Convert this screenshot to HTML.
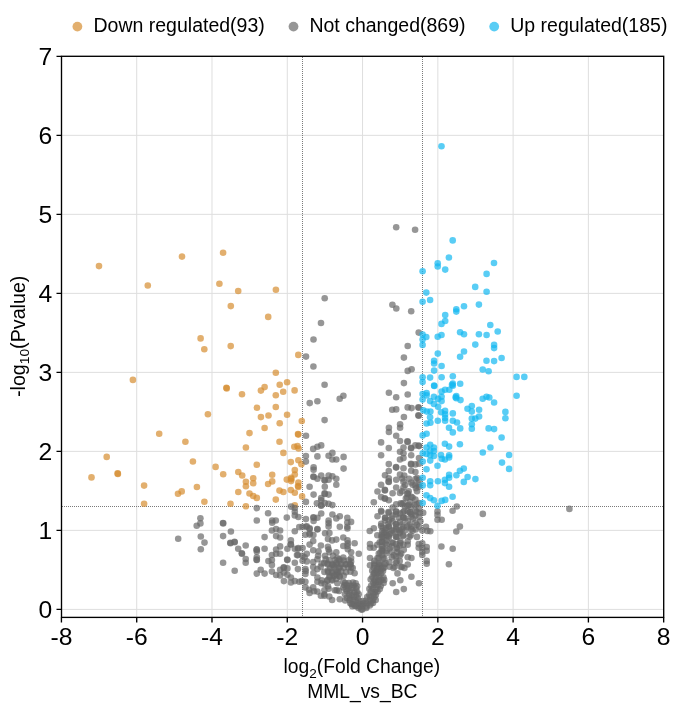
<!DOCTYPE html><html><head><meta charset="utf-8"><style>html,body{margin:0;padding:0;background:#fff;}body{width:685px;height:712px;overflow:hidden;font-family:"Liberation Sans",sans-serif;}svg{display:block;will-change:transform;}</style></head><body><svg width="685" height="712" viewBox="0 0 685 712"><rect width="685" height="712" fill="#fff"/><path d="M136.71 56.30V617.40M211.99 56.30V617.40M287.27 56.30V617.40M362.55 56.30V617.40M437.83 56.30V617.40M513.11 56.30V617.40M588.39 56.30V617.40M61.50 609.40H663.70M61.50 530.39H663.70M61.50 451.38H663.70M61.50 372.37H663.70M61.50 293.36H663.70M61.50 214.35H663.70M61.50 135.34H663.70" stroke="#dedede" stroke-width="1" fill="none"/><path d="M302.50 57V617M422.50 57V617M62 506.50H663" stroke="#7a7a7a" stroke-width="1" stroke-dasharray="1 1" fill="none"/><g fill="#D68D30" fill-opacity="0.7"><circle cx="99.0" cy="266.1" r="3.3"/><circle cx="147.8" cy="285.5" r="3.3"/><circle cx="182.0" cy="256.6" r="3.3"/><circle cx="223.1" cy="252.7" r="3.3"/><circle cx="219.4" cy="283.8" r="3.3"/><circle cx="238.2" cy="291.0" r="3.3"/><circle cx="275.9" cy="289.7" r="3.3"/><circle cx="230.8" cy="306.1" r="3.3"/><circle cx="268.2" cy="316.9" r="3.3"/><circle cx="200.6" cy="338.4" r="3.3"/><circle cx="204.3" cy="349.2" r="3.3"/><circle cx="132.9" cy="379.9" r="3.3"/><circle cx="207.9" cy="414.3" r="3.3"/><circle cx="159.2" cy="433.7" r="3.3"/><circle cx="230.7" cy="346.1" r="3.3"/><circle cx="298.3" cy="354.9" r="3.3"/><circle cx="275.8" cy="372.8" r="3.3"/><circle cx="287.1" cy="382.3" r="3.3"/><circle cx="279.7" cy="384.7" r="3.3"/><circle cx="264.6" cy="387.1" r="3.3"/><circle cx="260.9" cy="390.6" r="3.3"/><circle cx="226.7" cy="388.4" r="3.3"/><circle cx="226.4" cy="387.8" r="3.3"/><circle cx="242.0" cy="394.3" r="3.3"/><circle cx="275.8" cy="395.2" r="3.3"/><circle cx="283.2" cy="391.7" r="3.3"/><circle cx="294.6" cy="390.4" r="3.3"/><circle cx="256.9" cy="407.7" r="3.3"/><circle cx="275.8" cy="407.0" r="3.3"/><circle cx="260.9" cy="417.1" r="3.3"/><circle cx="268.5" cy="415.5" r="3.3"/><circle cx="287.1" cy="414.7" r="3.3"/><circle cx="301.8" cy="421.0" r="3.3"/><circle cx="279.7" cy="423.2" r="3.3"/><circle cx="264.6" cy="428.0" r="3.3"/><circle cx="249.5" cy="433.1" r="3.3"/><circle cx="298.3" cy="434.6" r="3.3"/><circle cx="298.0" cy="434.0" r="3.3"/><circle cx="185.4" cy="441.7" r="3.3"/><circle cx="106.7" cy="456.9" r="3.3"/><circle cx="91.5" cy="477.4" r="3.3"/><circle cx="117.9" cy="473.9" r="3.3"/><circle cx="117.6" cy="473.4" r="3.3"/><circle cx="192.9" cy="461.5" r="3.3"/><circle cx="215.6" cy="466.9" r="3.3"/><circle cx="144.1" cy="485.6" r="3.3"/><circle cx="178.0" cy="493.8" r="3.3"/><circle cx="181.7" cy="491.4" r="3.3"/><circle cx="196.9" cy="487.0" r="3.3"/><circle cx="144.1" cy="503.8" r="3.3"/><circle cx="204.4" cy="501.7" r="3.3"/><circle cx="279.5" cy="441.7" r="3.3"/><circle cx="245.9" cy="447.5" r="3.3"/><circle cx="294.3" cy="446.8" r="3.3"/><circle cx="297.5" cy="446.0" r="3.3"/><circle cx="298.6" cy="448.5" r="3.3"/><circle cx="283.4" cy="452.9" r="3.3"/><circle cx="256.8" cy="464.7" r="3.3"/><circle cx="290.8" cy="462.1" r="3.3"/><circle cx="298.4" cy="460.2" r="3.3"/><circle cx="301.4" cy="464.3" r="3.3"/><circle cx="223.2" cy="474.2" r="3.3"/><circle cx="238.3" cy="472.0" r="3.3"/><circle cx="242.2" cy="475.5" r="3.3"/><circle cx="253.2" cy="478.2" r="3.3"/><circle cx="245.9" cy="481.8" r="3.3"/><circle cx="245.9" cy="486.2" r="3.3"/><circle cx="253.2" cy="483.3" r="3.3"/><circle cx="272.2" cy="474.8" r="3.3"/><circle cx="272.2" cy="481.4" r="3.3"/><circle cx="268.1" cy="484.0" r="3.3"/><circle cx="294.8" cy="470.1" r="3.3"/><circle cx="294.8" cy="474.5" r="3.3"/><circle cx="291.1" cy="477.9" r="3.3"/><circle cx="286.8" cy="479.6" r="3.3"/><circle cx="291.1" cy="481.1" r="3.3"/><circle cx="291.4" cy="479.1" r="3.3"/><circle cx="298.4" cy="482.6" r="3.3"/><circle cx="298.4" cy="486.9" r="3.3"/><circle cx="298.0" cy="486.0" r="3.3"/><circle cx="290.8" cy="490.1" r="3.3"/><circle cx="294.8" cy="492.8" r="3.3"/><circle cx="279.5" cy="490.6" r="3.3"/><circle cx="283.4" cy="492.0" r="3.3"/><circle cx="238.3" cy="492.0" r="3.3"/><circle cx="249.5" cy="493.5" r="3.3"/><circle cx="253.2" cy="496.0" r="3.3"/><circle cx="256.8" cy="497.9" r="3.3"/><circle cx="275.8" cy="499.6" r="3.3"/><circle cx="302.1" cy="496.4" r="3.3"/><circle cx="230.5" cy="503.7" r="3.3"/><circle cx="245.9" cy="506.2" r="3.3"/><circle cx="294.8" cy="505.2" r="3.3"/></g><g fill="#6a6a6a" fill-opacity="0.7"><circle cx="396.2" cy="227.3" r="3.3"/><circle cx="415.1" cy="229.7" r="3.3"/><circle cx="324.7" cy="298.2" r="3.3"/><circle cx="321.0" cy="323.0" r="3.3"/><circle cx="392.4" cy="304.8" r="3.3"/><circle cx="396.3" cy="308.5" r="3.3"/><circle cx="411.2" cy="311.2" r="3.3"/><circle cx="418.7" cy="332.6" r="3.3"/><circle cx="313.5" cy="339.5" r="3.3"/><circle cx="306.0" cy="356.6" r="3.3"/><circle cx="313.4" cy="366.5" r="3.3"/><circle cx="324.6" cy="384.7" r="3.3"/><circle cx="317.4" cy="401.3" r="3.3"/><circle cx="309.7" cy="403.1" r="3.3"/><circle cx="339.7" cy="398.7" r="3.3"/><circle cx="343.4" cy="395.8" r="3.3"/><circle cx="324.6" cy="420.1" r="3.3"/><circle cx="306.0" cy="435.7" r="3.3"/><circle cx="407.7" cy="346.0" r="3.3"/><circle cx="403.9" cy="357.6" r="3.3"/><circle cx="407.7" cy="370.9" r="3.3"/><circle cx="411.6" cy="369.2" r="3.3"/><circle cx="403.9" cy="383.1" r="3.3"/><circle cx="388.9" cy="392.8" r="3.3"/><circle cx="396.2" cy="397.3" r="3.3"/><circle cx="407.7" cy="394.5" r="3.3"/><circle cx="392.2" cy="409.8" r="3.3"/><circle cx="396.2" cy="409.4" r="3.3"/><circle cx="407.7" cy="407.4" r="3.3"/><circle cx="411.6" cy="408.1" r="3.3"/><circle cx="418.7" cy="407.7" r="3.3"/><circle cx="418.4" cy="407.2" r="3.3"/><circle cx="418.7" cy="415.8" r="3.3"/><circle cx="418.4" cy="415.3" r="3.3"/><circle cx="403.9" cy="417.0" r="3.3"/><circle cx="400.1" cy="424.3" r="3.3"/><circle cx="400.1" cy="427.8" r="3.3"/><circle cx="388.9" cy="427.8" r="3.3"/><circle cx="388.9" cy="432.0" r="3.3"/><circle cx="396.2" cy="435.8" r="3.3"/><circle cx="200.4" cy="518.3" r="3.3"/><circle cx="200.4" cy="523.4" r="3.3"/><circle cx="196.7" cy="525.8" r="3.3"/><circle cx="256.8" cy="508.1" r="3.3"/><circle cx="268.1" cy="513.2" r="3.3"/><circle cx="256.8" cy="520.5" r="3.3"/><circle cx="223.2" cy="523.4" r="3.3"/><circle cx="223.0" cy="523.0" r="3.3"/><circle cx="272.2" cy="520.5" r="3.3"/><circle cx="275.8" cy="520.5" r="3.3"/><circle cx="272.2" cy="522.7" r="3.3"/><circle cx="286.8" cy="517.6" r="3.3"/><circle cx="291.1" cy="506.6" r="3.3"/><circle cx="294.8" cy="508.1" r="3.3"/><circle cx="294.8" cy="511.8" r="3.3"/><circle cx="294.8" cy="515.4" r="3.3"/><circle cx="313.2" cy="448.9" r="3.3"/><circle cx="317.4" cy="446.8" r="3.3"/><circle cx="321.2" cy="445.4" r="3.3"/><circle cx="305.9" cy="456.0" r="3.3"/><circle cx="305.9" cy="461.6" r="3.3"/><circle cx="317.4" cy="456.4" r="3.3"/><circle cx="328.6" cy="455.7" r="3.3"/><circle cx="332.4" cy="452.9" r="3.3"/><circle cx="332.4" cy="459.5" r="3.3"/><circle cx="336.3" cy="459.5" r="3.3"/><circle cx="343.6" cy="456.9" r="3.3"/><circle cx="343.6" cy="468.6" r="3.3"/><circle cx="313.6" cy="467.2" r="3.3"/><circle cx="313.6" cy="469.7" r="3.3"/><circle cx="313.6" cy="477.0" r="3.3"/><circle cx="313.4" cy="476.5" r="3.3"/><circle cx="317.4" cy="478.8" r="3.3"/><circle cx="321.2" cy="475.6" r="3.3"/><circle cx="324.8" cy="480.5" r="3.3"/><circle cx="324.5" cy="480.0" r="3.3"/><circle cx="328.6" cy="475.6" r="3.3"/><circle cx="328.6" cy="479.8" r="3.3"/><circle cx="332.4" cy="476.3" r="3.3"/><circle cx="336.3" cy="478.8" r="3.3"/><circle cx="336.3" cy="484.7" r="3.3"/><circle cx="309.6" cy="486.8" r="3.3"/><circle cx="324.8" cy="486.8" r="3.3"/><circle cx="313.6" cy="494.6" r="3.3"/><circle cx="324.8" cy="493.9" r="3.3"/><circle cx="324.6" cy="493.4" r="3.3"/><circle cx="328.6" cy="494.6" r="3.3"/><circle cx="321.2" cy="498.1" r="3.3"/><circle cx="321.2" cy="500.2" r="3.3"/><circle cx="305.9" cy="501.9" r="3.3"/><circle cx="316.9" cy="503.3" r="3.3"/><circle cx="321.2" cy="505.8" r="3.3"/><circle cx="321.0" cy="505.3" r="3.3"/><circle cx="324.8" cy="503.0" r="3.3"/><circle cx="328.6" cy="503.7" r="3.3"/><circle cx="332.4" cy="505.1" r="3.3"/><circle cx="298.4" cy="517.0" r="3.3"/><circle cx="305.9" cy="519.1" r="3.3"/><circle cx="313.6" cy="517.7" r="3.3"/><circle cx="313.4" cy="517.2" r="3.3"/><circle cx="313.6" cy="521.0" r="3.3"/><circle cx="317.4" cy="517.7" r="3.3"/><circle cx="321.2" cy="513.5" r="3.3"/><circle cx="328.6" cy="520.5" r="3.3"/><circle cx="328.6" cy="523.3" r="3.3"/><circle cx="328.6" cy="526.6" r="3.3"/><circle cx="332.4" cy="514.5" r="3.3"/><circle cx="336.3" cy="518.4" r="3.3"/><circle cx="339.8" cy="516.3" r="3.3"/><circle cx="347.3" cy="517.7" r="3.3"/><circle cx="347.3" cy="522.6" r="3.3"/><circle cx="351.1" cy="521.9" r="3.3"/><circle cx="347.3" cy="526.8" r="3.3"/><circle cx="339.8" cy="526.8" r="3.3"/><circle cx="302.6" cy="526.8" r="3.3"/><circle cx="306.1" cy="526.8" r="3.3"/><circle cx="309.6" cy="528.2" r="3.3"/><circle cx="317.4" cy="529.0" r="3.3"/><circle cx="381.1" cy="442.4" r="3.3"/><circle cx="388.8" cy="448.0" r="3.3"/><circle cx="381.1" cy="455.3" r="3.3"/><circle cx="400.0" cy="441.0" r="3.3"/><circle cx="407.7" cy="441.9" r="3.3"/><circle cx="407.4" cy="441.4" r="3.3"/><circle cx="403.5" cy="447.5" r="3.3"/><circle cx="411.2" cy="448.2" r="3.3"/><circle cx="411.0" cy="447.7" r="3.3"/><circle cx="415.4" cy="445.4" r="3.3"/><circle cx="419.0" cy="446.1" r="3.3"/><circle cx="418.7" cy="445.6" r="3.3"/><circle cx="400.0" cy="451.8" r="3.3"/><circle cx="403.5" cy="453.2" r="3.3"/><circle cx="411.2" cy="455.3" r="3.3"/><circle cx="400.0" cy="459.5" r="3.3"/><circle cx="403.5" cy="458.1" r="3.3"/><circle cx="419.0" cy="458.1" r="3.3"/><circle cx="411.2" cy="464.4" r="3.3"/><circle cx="411.0" cy="463.9" r="3.3"/><circle cx="415.4" cy="464.4" r="3.3"/><circle cx="419.0" cy="463.7" r="3.3"/><circle cx="388.8" cy="464.1" r="3.3"/><circle cx="396.2" cy="467.6" r="3.3"/><circle cx="396.0" cy="467.1" r="3.3"/><circle cx="403.5" cy="468.2" r="3.3"/><circle cx="388.8" cy="471.0" r="3.3"/><circle cx="411.2" cy="470.7" r="3.3"/><circle cx="415.4" cy="472.1" r="3.3"/><circle cx="385.0" cy="475.2" r="3.3"/><circle cx="400.0" cy="474.6" r="3.3"/><circle cx="404.2" cy="475.6" r="3.3"/><circle cx="388.8" cy="478.4" r="3.3"/><circle cx="388.8" cy="481.9" r="3.3"/><circle cx="388.6" cy="481.4" r="3.3"/><circle cx="396.2" cy="479.8" r="3.3"/><circle cx="403.5" cy="481.9" r="3.3"/><circle cx="411.2" cy="482.6" r="3.3"/><circle cx="415.4" cy="479.1" r="3.3"/><circle cx="419.0" cy="479.8" r="3.3"/><circle cx="415.4" cy="485.4" r="3.3"/><circle cx="419.0" cy="486.8" r="3.3"/><circle cx="381.1" cy="484.7" r="3.3"/><circle cx="396.2" cy="487.5" r="3.3"/><circle cx="403.5" cy="487.5" r="3.3"/><circle cx="377.5" cy="491.5" r="3.3"/><circle cx="385.0" cy="490.4" r="3.3"/><circle cx="384.8" cy="489.9" r="3.3"/><circle cx="392.6" cy="493.2" r="3.3"/><circle cx="400.0" cy="492.9" r="3.3"/><circle cx="407.7" cy="493.9" r="3.3"/><circle cx="407.5" cy="493.4" r="3.3"/><circle cx="381.1" cy="497.1" r="3.3"/><circle cx="385.0" cy="498.8" r="3.3"/><circle cx="384.8" cy="498.3" r="3.3"/><circle cx="388.8" cy="500.2" r="3.3"/><circle cx="411.2" cy="496.7" r="3.3"/><circle cx="415.4" cy="499.5" r="3.3"/><circle cx="419.0" cy="503.0" r="3.3"/><circle cx="373.8" cy="502.3" r="3.3"/><circle cx="396.2" cy="504.4" r="3.3"/><circle cx="392.6" cy="507.5" r="3.3"/><circle cx="403.5" cy="503.0" r="3.3"/><circle cx="407.7" cy="505.8" r="3.3"/><circle cx="381.1" cy="510.7" r="3.3"/><circle cx="388.8" cy="512.8" r="3.3"/><circle cx="396.2" cy="511.4" r="3.3"/><circle cx="400.0" cy="513.5" r="3.3"/><circle cx="407.7" cy="511.4" r="3.3"/><circle cx="415.4" cy="510.7" r="3.3"/><circle cx="419.0" cy="508.6" r="3.3"/><circle cx="377.5" cy="516.3" r="3.3"/><circle cx="385.0" cy="517.7" r="3.3"/><circle cx="392.6" cy="515.6" r="3.3"/><circle cx="396.2" cy="514.2" r="3.3"/><circle cx="403.5" cy="517.7" r="3.3"/><circle cx="403.3" cy="517.2" r="3.3"/><circle cx="411.2" cy="514.2" r="3.3"/><circle cx="415.4" cy="515.6" r="3.3"/><circle cx="423.2" cy="512.8" r="3.3"/><circle cx="419.0" cy="517.0" r="3.3"/><circle cx="385.0" cy="520.5" r="3.3"/><circle cx="392.6" cy="521.2" r="3.3"/><circle cx="400.0" cy="521.9" r="3.3"/><circle cx="407.7" cy="521.2" r="3.3"/><circle cx="415.4" cy="522.6" r="3.3"/><circle cx="420.4" cy="521.2" r="3.3"/><circle cx="381.1" cy="526.1" r="3.3"/><circle cx="388.8" cy="526.8" r="3.3"/><circle cx="396.2" cy="526.8" r="3.3"/><circle cx="403.5" cy="526.8" r="3.3"/><circle cx="411.2" cy="526.8" r="3.3"/><circle cx="419.0" cy="526.8" r="3.3"/><circle cx="373.8" cy="528.2" r="3.3"/><circle cx="426.0" cy="526.8" r="3.3"/><circle cx="456.8" cy="506.5" r="3.3"/><circle cx="452.6" cy="510.7" r="3.3"/><circle cx="482.8" cy="513.9" r="3.3"/><circle cx="437.5" cy="511.4" r="3.3"/><circle cx="437.5" cy="514.9" r="3.3"/><circle cx="437.5" cy="519.8" r="3.3"/><circle cx="441.7" cy="519.8" r="3.3"/><circle cx="459.9" cy="526.6" r="3.3"/><circle cx="178.2" cy="538.7" r="3.3"/><circle cx="200.8" cy="536.5" r="3.3"/><circle cx="204.5" cy="542.6" r="3.3"/><circle cx="200.8" cy="549.2" r="3.3"/><circle cx="223.1" cy="536.1" r="3.3"/><circle cx="223.1" cy="562.8" r="3.3"/><circle cx="230.9" cy="531.5" r="3.3"/><circle cx="271.9" cy="530.5" r="3.3"/><circle cx="276.1" cy="529.1" r="3.3"/><circle cx="280.1" cy="530.5" r="3.3"/><circle cx="264.6" cy="537.1" r="3.3"/><circle cx="276.1" cy="536.1" r="3.3"/><circle cx="280.1" cy="537.5" r="3.3"/><circle cx="294.8" cy="531.2" r="3.3"/><circle cx="230.5" cy="543.2" r="3.3"/><circle cx="230.3" cy="542.8" r="3.3"/><circle cx="234.7" cy="542.2" r="3.3"/><circle cx="234.5" cy="541.8" r="3.3"/><circle cx="238.2" cy="548.8" r="3.3"/><circle cx="245.7" cy="545.5" r="3.3"/><circle cx="242.0" cy="553.7" r="3.3"/><circle cx="241.8" cy="553.3" r="3.3"/><circle cx="245.7" cy="559.0" r="3.3"/><circle cx="245.7" cy="562.8" r="3.3"/><circle cx="234.7" cy="570.8" r="3.3"/><circle cx="256.8" cy="549.8" r="3.3"/><circle cx="256.6" cy="549.4" r="3.3"/><circle cx="256.8" cy="551.6" r="3.3"/><circle cx="256.8" cy="557.2" r="3.3"/><circle cx="256.8" cy="560.0" r="3.3"/><circle cx="256.6" cy="559.6" r="3.3"/><circle cx="264.6" cy="548.8" r="3.3"/><circle cx="260.7" cy="569.8" r="3.3"/><circle cx="256.8" cy="573.6" r="3.3"/><circle cx="264.6" cy="573.6" r="3.3"/><circle cx="268.4" cy="561.0" r="3.3"/><circle cx="271.9" cy="555.1" r="3.3"/><circle cx="271.9" cy="560.0" r="3.3"/><circle cx="271.9" cy="564.9" r="3.3"/><circle cx="276.1" cy="549.5" r="3.3"/><circle cx="276.1" cy="553.7" r="3.3"/><circle cx="280.1" cy="546.4" r="3.3"/><circle cx="280.1" cy="553.7" r="3.3"/><circle cx="271.9" cy="571.6" r="3.3"/><circle cx="276.1" cy="575.0" r="3.3"/><circle cx="280.1" cy="569.8" r="3.3"/><circle cx="280.1" cy="575.4" r="3.3"/><circle cx="283.9" cy="567.7" r="3.3"/><circle cx="283.7" cy="567.3" r="3.3"/><circle cx="283.9" cy="572.6" r="3.3"/><circle cx="287.4" cy="568.4" r="3.3"/><circle cx="287.4" cy="574.7" r="3.3"/><circle cx="283.9" cy="581.1" r="3.3"/><circle cx="290.9" cy="540.4" r="3.3"/><circle cx="290.9" cy="544.6" r="3.3"/><circle cx="290.7" cy="544.2" r="3.3"/><circle cx="287.4" cy="548.8" r="3.3"/><circle cx="287.4" cy="560.0" r="3.3"/><circle cx="287.2" cy="559.6" r="3.3"/><circle cx="294.8" cy="548.8" r="3.3"/><circle cx="294.8" cy="562.8" r="3.3"/><circle cx="297.9" cy="548.8" r="3.3"/><circle cx="297.9" cy="555.1" r="3.3"/><circle cx="297.9" cy="569.1" r="3.3"/><circle cx="290.9" cy="577.5" r="3.3"/><circle cx="290.9" cy="582.5" r="3.3"/><circle cx="294.8" cy="581.1" r="3.3"/><circle cx="299.3" cy="581.8" r="3.3"/><circle cx="299.3" cy="527.0" r="3.3"/><circle cx="306.8" cy="526.3" r="3.3"/><circle cx="309.6" cy="529.1" r="3.3"/><circle cx="309.6" cy="533.3" r="3.3"/><circle cx="317.4" cy="529.5" r="3.3"/><circle cx="305.4" cy="534.7" r="3.3"/><circle cx="325.1" cy="533.3" r="3.3"/><circle cx="313.2" cy="541.1" r="3.3"/><circle cx="309.6" cy="544.6" r="3.3"/><circle cx="320.9" cy="545.5" r="3.3"/><circle cx="327.9" cy="546.7" r="3.3"/><circle cx="332.1" cy="540.4" r="3.3"/><circle cx="336.3" cy="539.6" r="3.3"/><circle cx="343.3" cy="537.5" r="3.3"/><circle cx="347.5" cy="540.4" r="3.3"/><circle cx="354.6" cy="543.2" r="3.3"/><circle cx="343.3" cy="546.0" r="3.3"/><circle cx="347.5" cy="546.0" r="3.3"/><circle cx="358.8" cy="553.7" r="3.3"/><circle cx="351.1" cy="552.3" r="3.3"/><circle cx="343.3" cy="557.6" r="3.3"/><circle cx="336.3" cy="552.3" r="3.3"/><circle cx="328.6" cy="549.5" r="3.3"/><circle cx="325.1" cy="555.8" r="3.3"/><circle cx="318.1" cy="555.8" r="3.3"/><circle cx="313.2" cy="550.2" r="3.3"/><circle cx="306.8" cy="553.7" r="3.3"/><circle cx="302.6" cy="548.1" r="3.3"/><circle cx="298.4" cy="548.1" r="3.3"/><circle cx="297.0" cy="555.1" r="3.3"/><circle cx="302.6" cy="560.7" r="3.3"/><circle cx="306.8" cy="561.4" r="3.3"/><circle cx="313.2" cy="562.1" r="3.3"/><circle cx="317.4" cy="559.3" r="3.3"/><circle cx="321.6" cy="563.5" r="3.3"/><circle cx="327.9" cy="563.5" r="3.3"/><circle cx="332.1" cy="564.9" r="3.3"/><circle cx="336.3" cy="562.8" r="3.3"/><circle cx="339.8" cy="567.0" r="3.3"/><circle cx="346.1" cy="564.2" r="3.3"/><circle cx="350.4" cy="564.2" r="3.3"/><circle cx="354.6" cy="573.3" r="3.3"/><circle cx="305.4" cy="569.1" r="3.3"/><circle cx="305.4" cy="574.0" r="3.3"/><circle cx="313.2" cy="567.0" r="3.3"/><circle cx="317.4" cy="569.1" r="3.3"/><circle cx="324.4" cy="571.9" r="3.3"/><circle cx="327.9" cy="570.5" r="3.3"/><circle cx="332.1" cy="573.3" r="3.3"/><circle cx="336.3" cy="570.5" r="3.3"/><circle cx="301.9" cy="581.1" r="3.3"/><circle cx="305.4" cy="581.8" r="3.3"/><circle cx="317.4" cy="577.5" r="3.3"/><circle cx="317.4" cy="581.8" r="3.3"/><circle cx="321.6" cy="580.4" r="3.3"/><circle cx="327.2" cy="580.4" r="3.3"/><circle cx="332.1" cy="580.4" r="3.3"/><circle cx="336.3" cy="578.9" r="3.3"/><circle cx="339.8" cy="576.8" r="3.3"/><circle cx="305.4" cy="587.4" r="3.3"/><circle cx="309.6" cy="593.0" r="3.3"/><circle cx="313.2" cy="587.4" r="3.3"/><circle cx="317.4" cy="591.6" r="3.3"/><circle cx="320.9" cy="595.8" r="3.3"/><circle cx="324.4" cy="590.2" r="3.3"/><circle cx="324.4" cy="595.8" r="3.3"/><circle cx="329.3" cy="596.5" r="3.3"/><circle cx="332.1" cy="600.0" r="3.3"/><circle cx="328.6" cy="588.8" r="3.3"/><circle cx="334.9" cy="590.2" r="3.3"/><circle cx="339.1" cy="590.9" r="3.3"/><circle cx="339.8" cy="599.3" r="3.3"/><circle cx="343.3" cy="581.8" r="3.3"/><circle cx="343.3" cy="587.4" r="3.3"/><circle cx="313.4" cy="535.0" r="3.3"/><circle cx="329.4" cy="533.1" r="3.3"/><circle cx="328.0" cy="539.0" r="3.3"/><circle cx="318.5" cy="551.4" r="3.3"/><circle cx="302.4" cy="555.8" r="3.3"/><circle cx="304.6" cy="557.2" r="3.3"/><circle cx="329.4" cy="552.1" r="3.3"/><circle cx="333.1" cy="555.8" r="3.3"/><circle cx="337.4" cy="558.0" r="3.3"/><circle cx="324.3" cy="563.1" r="3.3"/><circle cx="333.8" cy="565.3" r="3.3"/><circle cx="320.7" cy="566.7" r="3.3"/><circle cx="309.7" cy="534.6" r="3.3"/><circle cx="305.7" cy="571.0" r="3.3"/><circle cx="313.4" cy="573.0" r="3.3"/><circle cx="338.2" cy="572.3" r="3.3"/><circle cx="321.4" cy="583.2" r="3.3"/><circle cx="324.7" cy="584.0" r="3.3"/><circle cx="328.0" cy="586.2" r="3.3"/><circle cx="309.0" cy="589.8" r="3.3"/><circle cx="314.1" cy="591.3" r="3.3"/><circle cx="324.3" cy="594.2" r="3.3"/><circle cx="336.7" cy="590.2" r="3.3"/><circle cx="333.8" cy="576.0" r="3.3"/><circle cx="336.7" cy="574.5" r="3.3"/><circle cx="329.4" cy="577.0" r="3.3"/><circle cx="337.4" cy="583.2" r="3.3"/><circle cx="347.4" cy="528.5" r="3.3"/><circle cx="369.7" cy="531.0" r="3.3"/><circle cx="347.8" cy="543.4" r="3.3"/><circle cx="347.8" cy="549.2" r="3.3"/><circle cx="339.4" cy="560.9" r="3.3"/><circle cx="351.1" cy="558.0" r="3.3"/><circle cx="351.1" cy="561.6" r="3.3"/><circle cx="351.1" cy="567.4" r="3.3"/><circle cx="377.3" cy="535.3" r="3.3"/><circle cx="370.0" cy="544.1" r="3.3"/><circle cx="370.0" cy="547.7" r="3.3"/><circle cx="373.7" cy="547.7" r="3.3"/><circle cx="377.3" cy="544.8" r="3.3"/><circle cx="381.7" cy="534.6" r="3.3"/><circle cx="381.7" cy="541.9" r="3.3"/><circle cx="381.7" cy="549.2" r="3.3"/><circle cx="370.0" cy="558.0" r="3.3"/><circle cx="370.0" cy="565.3" r="3.3"/><circle cx="374.4" cy="560.9" r="3.3"/><circle cx="374.4" cy="565.3" r="3.3"/><circle cx="378.8" cy="553.6" r="3.3"/><circle cx="378.8" cy="558.0" r="3.3"/><circle cx="378.8" cy="563.8" r="3.3"/><circle cx="422.3" cy="530.6" r="3.3"/><circle cx="427.4" cy="530.9" r="3.3"/><circle cx="401.9" cy="529.5" r="3.3"/><circle cx="411.4" cy="529.0" r="3.3"/><circle cx="415.8" cy="529.5" r="3.3"/><circle cx="396.1" cy="529.5" r="3.3"/><circle cx="382.2" cy="531.0" r="3.3"/><circle cx="382.2" cy="536.8" r="3.3"/><circle cx="386.6" cy="535.3" r="3.3"/><circle cx="382.2" cy="541.9" r="3.3"/><circle cx="386.6" cy="540.4" r="3.3"/><circle cx="382.2" cy="546.3" r="3.3"/><circle cx="386.6" cy="544.8" r="3.3"/><circle cx="396.1" cy="536.8" r="3.3"/><circle cx="403.4" cy="535.3" r="3.3"/><circle cx="410.7" cy="535.3" r="3.3"/><circle cx="400.4" cy="541.2" r="3.3"/><circle cx="407.7" cy="541.2" r="3.3"/><circle cx="391.7" cy="542.6" r="3.3"/><circle cx="396.1" cy="544.1" r="3.3"/><circle cx="403.4" cy="544.8" r="3.3"/><circle cx="407.7" cy="544.8" r="3.3"/><circle cx="391.7" cy="546.3" r="3.3"/><circle cx="396.8" cy="547.7" r="3.3"/><circle cx="399.7" cy="545.5" r="3.3"/><circle cx="382.2" cy="550.7" r="3.3"/><circle cx="386.6" cy="550.7" r="3.3"/><circle cx="391.7" cy="552.1" r="3.3"/><circle cx="397.5" cy="552.1" r="3.3"/><circle cx="401.2" cy="553.6" r="3.3"/><circle cx="382.2" cy="555.0" r="3.3"/><circle cx="384.4" cy="558.7" r="3.3"/><circle cx="391.7" cy="557.2" r="3.3"/><circle cx="396.1" cy="556.5" r="3.3"/><circle cx="399.7" cy="560.9" r="3.3"/><circle cx="396.1" cy="563.1" r="3.3"/><circle cx="389.5" cy="562.3" r="3.3"/><circle cx="384.4" cy="564.5" r="3.3"/><circle cx="389.5" cy="566.7" r="3.3"/><circle cx="394.6" cy="566.7" r="3.3"/><circle cx="401.9" cy="566.7" r="3.3"/><circle cx="407.7" cy="557.2" r="3.3"/><circle cx="411.4" cy="558.0" r="3.3"/><circle cx="407.7" cy="564.5" r="3.3"/><circle cx="418.7" cy="544.1" r="3.3"/><circle cx="422.3" cy="543.4" r="3.3"/><circle cx="418.7" cy="547.7" r="3.3"/><circle cx="422.3" cy="547.7" r="3.3"/><circle cx="426.7" cy="547.0" r="3.3"/><circle cx="422.3" cy="552.1" r="3.3"/><circle cx="422.3" cy="555.0" r="3.3"/><circle cx="426.7" cy="550.7" r="3.3"/><circle cx="426.7" cy="560.9" r="3.3"/><circle cx="426.7" cy="563.8" r="3.3"/><circle cx="456.3" cy="531.5" r="3.3"/><circle cx="430.3" cy="531.3" r="3.3"/><circle cx="441.4" cy="546.5" r="3.3"/><circle cx="452.7" cy="548.8" r="3.3"/><circle cx="448.9" cy="564.2" r="3.3"/><circle cx="362.4" cy="609.5" r="3.3"/><circle cx="358.5" cy="608.0" r="3.3"/><circle cx="366.3" cy="608.0" r="3.3"/><circle cx="355.0" cy="606.0" r="3.3"/><circle cx="369.8" cy="605.5" r="3.3"/><circle cx="351.5" cy="604.0" r="3.3"/><circle cx="373.0" cy="603.0" r="3.3"/><circle cx="362.4" cy="605.5" r="3.3"/><circle cx="404.4" cy="568.0" r="3.3"/><circle cx="400.3" cy="580.3" r="3.3"/><circle cx="392.7" cy="583.2" r="3.3"/><circle cx="411.4" cy="576.8" r="3.3"/><circle cx="419.0" cy="583.2" r="3.3"/><circle cx="403.8" cy="589.1" r="3.3"/><circle cx="396.2" cy="592.0" r="3.3"/><circle cx="407.2" cy="497.5" r="3.3"/><circle cx="400.7" cy="503.4" r="3.3"/><circle cx="405.0" cy="506.3" r="3.3"/><circle cx="410.9" cy="507.0" r="3.3"/><circle cx="419.6" cy="512.8" r="3.3"/><circle cx="386.1" cy="528.2" r="3.3"/><circle cx="418.8" cy="484.6" r="3.3"/><circle cx="415.9" cy="488.2" r="3.3"/><circle cx="410.1" cy="502.1" r="3.3"/><circle cx="414.5" cy="505.0" r="3.3"/><circle cx="404.2" cy="510.9" r="3.3"/><circle cx="410.1" cy="512.3" r="3.3"/><circle cx="388.9" cy="520.4" r="3.3"/><circle cx="396.2" cy="524.0" r="3.3"/><circle cx="411.5" cy="516.7" r="3.3"/><circle cx="407.2" cy="526.9" r="3.3"/><circle cx="383.8" cy="532.8" r="3.3"/><circle cx="389.6" cy="534.2" r="3.3"/><circle cx="399.9" cy="532.8" r="3.3"/><circle cx="569.4" cy="508.9" r="3.3"/><circle cx="379.5" cy="565.3" r="3.3"/><circle cx="373.9" cy="567.9" r="3.3"/><circle cx="377.5" cy="567.5" r="3.3"/><circle cx="380.8" cy="568.2" r="3.3"/><circle cx="384.3" cy="567.6" r="3.3"/><circle cx="372.2" cy="570.8" r="3.3"/><circle cx="376.0" cy="571.0" r="3.3"/><circle cx="380.1" cy="571.1" r="3.3"/><circle cx="383.0" cy="571.0" r="3.3"/><circle cx="374.6" cy="573.4" r="3.3"/><circle cx="377.6" cy="573.6" r="3.3"/><circle cx="381.1" cy="573.4" r="3.3"/><circle cx="372.4" cy="577.1" r="3.3"/><circle cx="376.2" cy="577.1" r="3.3"/><circle cx="379.4" cy="576.5" r="3.3"/><circle cx="383.4" cy="577.4" r="3.3"/><circle cx="370.7" cy="579.4" r="3.3"/><circle cx="374.6" cy="580.2" r="3.3"/><circle cx="378.3" cy="579.7" r="3.3"/><circle cx="381.5" cy="580.1" r="3.3"/><circle cx="384.2" cy="579.9" r="3.3"/><circle cx="345.2" cy="583.1" r="3.3"/><circle cx="348.8" cy="583.1" r="3.3"/><circle cx="353.0" cy="582.6" r="3.3"/><circle cx="355.7" cy="583.2" r="3.3"/><circle cx="373.4" cy="582.9" r="3.3"/><circle cx="376.0" cy="582.8" r="3.3"/><circle cx="379.2" cy="582.1" r="3.3"/><circle cx="383.6" cy="582.9" r="3.3"/><circle cx="344.3" cy="585.3" r="3.3"/><circle cx="347.0" cy="585.4" r="3.3"/><circle cx="350.4" cy="585.8" r="3.3"/><circle cx="353.8" cy="585.6" r="3.3"/><circle cx="357.1" cy="586.2" r="3.3"/><circle cx="371.1" cy="585.7" r="3.3"/><circle cx="374.5" cy="585.1" r="3.3"/><circle cx="377.8" cy="585.3" r="3.3"/><circle cx="380.7" cy="586.0" r="3.3"/><circle cx="345.7" cy="589.0" r="3.3"/><circle cx="348.5" cy="588.7" r="3.3"/><circle cx="352.1" cy="588.4" r="3.3"/><circle cx="356.1" cy="588.6" r="3.3"/><circle cx="369.4" cy="588.9" r="3.3"/><circle cx="372.7" cy="588.7" r="3.3"/><circle cx="376.2" cy="589.2" r="3.3"/><circle cx="379.8" cy="589.1" r="3.3"/><circle cx="346.8" cy="591.3" r="3.3"/><circle cx="350.2" cy="591.8" r="3.3"/><circle cx="354.4" cy="592.1" r="3.3"/><circle cx="357.1" cy="591.8" r="3.3"/><circle cx="371.0" cy="591.6" r="3.3"/><circle cx="375.1" cy="592.0" r="3.3"/><circle cx="377.5" cy="591.5" r="3.3"/><circle cx="345.0" cy="594.3" r="3.3"/><circle cx="349.1" cy="594.6" r="3.3"/><circle cx="351.9" cy="595.1" r="3.3"/><circle cx="356.1" cy="595.1" r="3.3"/><circle cx="358.7" cy="594.3" r="3.3"/><circle cx="369.3" cy="595.0" r="3.3"/><circle cx="373.2" cy="594.2" r="3.3"/><circle cx="375.8" cy="595.0" r="3.3"/><circle cx="346.8" cy="597.9" r="3.3"/><circle cx="350.2" cy="597.9" r="3.3"/><circle cx="354.0" cy="597.3" r="3.3"/><circle cx="357.6" cy="598.0" r="3.3"/><circle cx="367.2" cy="597.1" r="3.3"/><circle cx="370.6" cy="597.1" r="3.3"/><circle cx="374.3" cy="597.3" r="3.3"/><circle cx="345.2" cy="600.4" r="3.3"/><circle cx="349.5" cy="600.0" r="3.3"/><circle cx="352.8" cy="600.4" r="3.3"/><circle cx="355.8" cy="600.9" r="3.3"/><circle cx="359.1" cy="600.5" r="3.3"/><circle cx="362.8" cy="601.0" r="3.3"/><circle cx="365.8" cy="600.9" r="3.3"/><circle cx="369.6" cy="600.6" r="3.3"/><circle cx="372.7" cy="600.3" r="3.3"/><circle cx="375.7" cy="600.0" r="3.3"/><circle cx="350.3" cy="603.3" r="3.3"/><circle cx="353.8" cy="604.0" r="3.3"/><circle cx="358.1" cy="603.5" r="3.3"/><circle cx="360.6" cy="604.0" r="3.3"/><circle cx="364.1" cy="603.2" r="3.3"/><circle cx="367.1" cy="603.3" r="3.3"/><circle cx="371.1" cy="603.4" r="3.3"/><circle cx="352.3" cy="606.2" r="3.3"/><circle cx="356.4" cy="605.9" r="3.3"/><circle cx="359.5" cy="606.5" r="3.3"/><circle cx="362.1" cy="606.8" r="3.3"/><circle cx="366.5" cy="606.5" r="3.3"/><circle cx="361.3" cy="609.6" r="3.3"/><circle cx="382.7" cy="527.7" r="3.3"/><circle cx="389.0" cy="526.6" r="3.3"/><circle cx="385.8" cy="532.8" r="3.3"/><circle cx="391.4" cy="532.7" r="3.3"/><circle cx="383.5" cy="537.4" r="3.3"/><circle cx="388.8" cy="537.5" r="3.3"/><circle cx="379.7" cy="542.3" r="3.3"/><circle cx="385.5" cy="543.3" r="3.3"/><circle cx="382.8" cy="548.6" r="3.3"/><circle cx="389.5" cy="548.5" r="3.3"/><circle cx="380.3" cy="552.8" r="3.3"/><circle cx="386.3" cy="553.3" r="3.3"/><circle cx="377.5" cy="558.1" r="3.3"/><circle cx="383.0" cy="558.4" r="3.3"/><circle cx="374.2" cy="563.5" r="3.3"/><circle cx="380.1" cy="563.6" r="3.3"/><circle cx="385.6" cy="563.4" r="3.3"/><circle cx="377.5" cy="569.6" r="3.3"/><circle cx="382.9" cy="568.5" r="3.3"/><circle cx="373.7" cy="573.9" r="3.3"/><circle cx="325.7" cy="559.4" r="3.3"/><circle cx="329.3" cy="560.3" r="3.3"/><circle cx="335.0" cy="560.0" r="3.3"/><circle cx="339.2" cy="559.4" r="3.3"/><circle cx="343.6" cy="560.5" r="3.3"/><circle cx="348.7" cy="560.4" r="3.3"/><circle cx="327.6" cy="564.2" r="3.3"/><circle cx="332.7" cy="564.3" r="3.3"/><circle cx="337.0" cy="564.3" r="3.3"/><circle cx="341.3" cy="564.1" r="3.3"/><circle cx="345.4" cy="564.3" r="3.3"/><circle cx="350.3" cy="564.5" r="3.3"/><circle cx="330.1" cy="568.2" r="3.3"/><circle cx="334.0" cy="567.5" r="3.3"/><circle cx="339.1" cy="568.1" r="3.3"/><circle cx="343.6" cy="567.7" r="3.3"/><circle cx="348.4" cy="567.4" r="3.3"/><circle cx="352.7" cy="568.0" r="3.3"/><circle cx="328.1" cy="572.0" r="3.3"/><circle cx="331.9" cy="571.7" r="3.3"/><circle cx="337.4" cy="572.3" r="3.3"/><circle cx="341.2" cy="571.4" r="3.3"/><circle cx="346.0" cy="572.2" r="3.3"/><circle cx="350.5" cy="571.7" r="3.3"/><circle cx="329.7" cy="575.9" r="3.3"/><circle cx="334.7" cy="575.6" r="3.3"/><circle cx="339.5" cy="576.3" r="3.3"/><circle cx="343.7" cy="575.7" r="3.3"/><circle cx="327.4" cy="580.6" r="3.3"/><circle cx="332.2" cy="579.6" r="3.3"/><circle cx="394.0" cy="530.9" r="3.3"/><circle cx="400.1" cy="531.6" r="3.3"/><circle cx="397.2" cy="537.0" r="3.3"/><circle cx="393.1" cy="542.7" r="3.3"/><circle cx="400.2" cy="543.1" r="3.3"/><circle cx="397.6" cy="549.0" r="3.3"/><circle cx="403.8" cy="549.7" r="3.3"/><circle cx="393.9" cy="555.4" r="3.3"/><circle cx="400.0" cy="555.4" r="3.3"/><circle cx="396.6" cy="561.4" r="3.3"/><circle cx="393.4" cy="568.0" r="3.3"/><circle cx="400.8" cy="567.1" r="3.3"/><circle cx="397.5" cy="573.4" r="3.3"/><circle cx="381.4" cy="511.8" r="3.3"/><circle cx="388.4" cy="512.1" r="3.3"/><circle cx="396.0" cy="511.7" r="3.3"/><circle cx="402.9" cy="512.4" r="3.3"/><circle cx="409.9" cy="512.4" r="3.3"/><circle cx="416.6" cy="511.9" r="3.3"/><circle cx="385.3" cy="517.7" r="3.3"/><circle cx="391.6" cy="518.5" r="3.3"/><circle cx="398.7" cy="517.7" r="3.3"/><circle cx="405.4" cy="518.2" r="3.3"/><circle cx="412.8" cy="518.8" r="3.3"/><circle cx="381.2" cy="523.8" r="3.3"/><circle cx="388.0" cy="524.3" r="3.3"/><circle cx="395.8" cy="524.2" r="3.3"/><circle cx="402.2" cy="524.2" r="3.3"/><circle cx="409.6" cy="524.5" r="3.3"/><circle cx="416.8" cy="524.7" r="3.3"/><circle cx="385.4" cy="530.1" r="3.3"/><circle cx="392.1" cy="530.2" r="3.3"/><circle cx="399.3" cy="530.0" r="3.3"/><circle cx="405.7" cy="530.1" r="3.3"/><circle cx="412.6" cy="530.8" r="3.3"/><circle cx="381.4" cy="537.0" r="3.3"/><circle cx="388.5" cy="536.1" r="3.3"/><circle cx="395.9" cy="536.6" r="3.3"/><circle cx="403.1" cy="536.0" r="3.3"/><circle cx="409.5" cy="536.8" r="3.3"/><circle cx="416.9" cy="536.9" r="3.3"/><circle cx="402.2" cy="478.5" r="3.3"/><circle cx="409.0" cy="478.9" r="3.3"/><circle cx="417.3" cy="478.1" r="3.3"/><circle cx="405.2" cy="484.9" r="3.3"/><circle cx="412.6" cy="484.7" r="3.3"/><circle cx="401.9" cy="491.2" r="3.3"/><circle cx="408.7" cy="491.4" r="3.3"/><circle cx="417.0" cy="491.2" r="3.3"/><circle cx="405.9" cy="498.2" r="3.3"/><circle cx="412.5" cy="497.6" r="3.3"/><circle cx="401.9" cy="504.1" r="3.3"/><circle cx="408.8" cy="504.9" r="3.3"/><circle cx="416.6" cy="504.4" r="3.3"/></g><g fill="#13B8F1" fill-opacity="0.7"><circle cx="441.5" cy="146.3" r="3.3"/><circle cx="452.7" cy="240.4" r="3.3"/><circle cx="448.9" cy="257.5" r="3.3"/><circle cx="437.7" cy="263.2" r="3.3"/><circle cx="437.7" cy="266.5" r="3.3"/><circle cx="445.2" cy="269.6" r="3.3"/><circle cx="422.6" cy="271.3" r="3.3"/><circle cx="494.0" cy="263.0" r="3.3"/><circle cx="486.6" cy="273.9" r="3.3"/><circle cx="475.2" cy="286.9" r="3.3"/><circle cx="486.6" cy="291.7" r="3.3"/><circle cx="426.3" cy="292.6" r="3.3"/><circle cx="430.1" cy="300.0" r="3.3"/><circle cx="422.6" cy="301.7" r="3.3"/><circle cx="464.0" cy="306.3" r="3.3"/><circle cx="478.9" cy="304.6" r="3.3"/><circle cx="456.3" cy="309.2" r="3.3"/><circle cx="456.3" cy="311.6" r="3.3"/><circle cx="445.2" cy="315.1" r="3.3"/><circle cx="445.2" cy="321.0" r="3.3"/><circle cx="441.5" cy="323.9" r="3.3"/><circle cx="490.3" cy="325.0" r="3.3"/><circle cx="497.7" cy="331.5" r="3.3"/><circle cx="460.1" cy="332.2" r="3.3"/><circle cx="464.0" cy="334.2" r="3.3"/><circle cx="478.9" cy="334.2" r="3.3"/><circle cx="486.6" cy="335.0" r="3.3"/><circle cx="441.5" cy="335.0" r="3.3"/><circle cx="437.7" cy="336.8" r="3.3"/><circle cx="426.3" cy="337.0" r="3.3"/><circle cx="422.6" cy="334.6" r="3.3"/><circle cx="422.6" cy="339.6" r="3.3"/><circle cx="422.6" cy="344.9" r="3.3"/><circle cx="475.3" cy="344.6" r="3.3"/><circle cx="464.0" cy="351.5" r="3.3"/><circle cx="460.1" cy="356.8" r="3.3"/><circle cx="437.8" cy="353.6" r="3.3"/><circle cx="486.5" cy="360.8" r="3.3"/><circle cx="434.1" cy="360.8" r="3.3"/><circle cx="434.1" cy="363.5" r="3.3"/><circle cx="441.6" cy="366.0" r="3.3"/><circle cx="434.1" cy="370.6" r="3.3"/><circle cx="482.7" cy="369.5" r="3.3"/><circle cx="488.6" cy="371.2" r="3.3"/><circle cx="422.6" cy="377.2" r="3.3"/><circle cx="430.1" cy="377.6" r="3.3"/><circle cx="441.6" cy="377.2" r="3.3"/><circle cx="452.8" cy="376.2" r="3.3"/><circle cx="422.6" cy="382.1" r="3.3"/><circle cx="434.1" cy="385.6" r="3.3"/><circle cx="452.8" cy="383.5" r="3.3"/><circle cx="452.8" cy="385.8" r="3.3"/><circle cx="460.2" cy="383.8" r="3.3"/><circle cx="441.6" cy="391.6" r="3.3"/><circle cx="445.1" cy="389.8" r="3.3"/><circle cx="449.3" cy="389.8" r="3.3"/><circle cx="426.6" cy="393.1" r="3.3"/><circle cx="422.6" cy="394.0" r="3.3"/><circle cx="422.6" cy="399.6" r="3.3"/><circle cx="426.6" cy="395.4" r="3.3"/><circle cx="433.9" cy="396.8" r="3.3"/><circle cx="438.1" cy="398.9" r="3.3"/><circle cx="441.6" cy="396.8" r="3.3"/><circle cx="441.6" cy="401.1" r="3.3"/><circle cx="430.1" cy="401.1" r="3.3"/><circle cx="433.9" cy="403.9" r="3.3"/><circle cx="438.1" cy="406.7" r="3.3"/><circle cx="456.3" cy="396.1" r="3.3"/><circle cx="460.5" cy="400.1" r="3.3"/><circle cx="456.3" cy="398.2" r="3.3"/><circle cx="482.7" cy="398.7" r="3.3"/><circle cx="486.5" cy="396.8" r="3.3"/><circle cx="489.3" cy="397.5" r="3.3"/><circle cx="423.3" cy="410.2" r="3.3"/><circle cx="426.8" cy="411.6" r="3.3"/><circle cx="430.4" cy="411.6" r="3.3"/><circle cx="441.2" cy="412.3" r="3.3"/><circle cx="445.1" cy="410.9" r="3.3"/><circle cx="445.1" cy="414.4" r="3.3"/><circle cx="445.1" cy="417.9" r="3.3"/><circle cx="445.1" cy="420.7" r="3.3"/><circle cx="452.8" cy="413.4" r="3.3"/><circle cx="430.1" cy="417.2" r="3.3"/><circle cx="426.6" cy="423.5" r="3.3"/><circle cx="430.4" cy="422.8" r="3.3"/><circle cx="437.8" cy="420.7" r="3.3"/><circle cx="452.8" cy="420.7" r="3.3"/><circle cx="457.0" cy="422.5" r="3.3"/><circle cx="467.5" cy="408.8" r="3.3"/><circle cx="471.8" cy="406.0" r="3.3"/><circle cx="471.8" cy="411.6" r="3.3"/><circle cx="479.1" cy="409.8" r="3.3"/><circle cx="471.8" cy="418.6" r="3.3"/><circle cx="475.3" cy="418.6" r="3.3"/><circle cx="479.1" cy="416.5" r="3.3"/><circle cx="471.8" cy="424.2" r="3.3"/><circle cx="471.8" cy="428.7" r="3.3"/><circle cx="449.0" cy="427.7" r="3.3"/><circle cx="452.8" cy="432.4" r="3.3"/><circle cx="460.2" cy="428.4" r="3.3"/><circle cx="488.6" cy="428.4" r="3.3"/><circle cx="422.6" cy="435.4" r="3.3"/><circle cx="426.6" cy="433.8" r="3.3"/><circle cx="494.1" cy="344.9" r="3.3"/><circle cx="494.1" cy="348.1" r="3.3"/><circle cx="501.6" cy="358.0" r="3.3"/><circle cx="494.1" cy="361.1" r="3.3"/><circle cx="516.6" cy="376.9" r="3.3"/><circle cx="524.3" cy="376.9" r="3.3"/><circle cx="516.6" cy="395.7" r="3.3"/><circle cx="494.1" cy="402.5" r="3.3"/><circle cx="505.4" cy="411.9" r="3.3"/><circle cx="505.4" cy="418.2" r="3.3"/><circle cx="494.1" cy="429.1" r="3.3"/><circle cx="501.6" cy="437.5" r="3.3"/><circle cx="509.1" cy="455.0" r="3.3"/><circle cx="502.0" cy="462.6" r="3.3"/><circle cx="509.1" cy="468.9" r="3.3"/><circle cx="444.9" cy="443.8" r="3.3"/><circle cx="449.1" cy="446.6" r="3.3"/><circle cx="459.9" cy="444.3" r="3.3"/><circle cx="490.4" cy="447.5" r="3.3"/><circle cx="482.8" cy="452.5" r="3.3"/><circle cx="430.2" cy="444.7" r="3.3"/><circle cx="426.5" cy="447.5" r="3.3"/><circle cx="433.9" cy="447.5" r="3.3"/><circle cx="422.7" cy="453.2" r="3.3"/><circle cx="426.5" cy="453.9" r="3.3"/><circle cx="430.2" cy="451.1" r="3.3"/><circle cx="433.9" cy="451.1" r="3.3"/><circle cx="430.2" cy="455.3" r="3.3"/><circle cx="433.9" cy="456.0" r="3.3"/><circle cx="441.0" cy="455.0" r="3.3"/><circle cx="449.1" cy="455.3" r="3.3"/><circle cx="441.7" cy="458.8" r="3.3"/><circle cx="444.9" cy="459.5" r="3.3"/><circle cx="449.1" cy="457.4" r="3.3"/><circle cx="430.2" cy="460.6" r="3.3"/><circle cx="422.7" cy="461.6" r="3.3"/><circle cx="437.5" cy="465.8" r="3.3"/><circle cx="426.5" cy="469.3" r="3.3"/><circle cx="463.8" cy="468.6" r="3.3"/><circle cx="459.9" cy="470.7" r="3.3"/><circle cx="456.4" cy="475.2" r="3.3"/><circle cx="449.1" cy="474.9" r="3.3"/><circle cx="449.1" cy="477.7" r="3.3"/><circle cx="467.6" cy="477.0" r="3.3"/><circle cx="475.4" cy="479.1" r="3.3"/><circle cx="463.8" cy="481.9" r="3.3"/><circle cx="444.9" cy="479.8" r="3.3"/><circle cx="444.9" cy="483.1" r="3.3"/><circle cx="437.9" cy="481.2" r="3.3"/><circle cx="430.2" cy="481.2" r="3.3"/><circle cx="430.2" cy="485.2" r="3.3"/><circle cx="422.7" cy="477.7" r="3.3"/><circle cx="422.7" cy="485.4" r="3.3"/><circle cx="449.1" cy="486.8" r="3.3"/><circle cx="452.6" cy="496.7" r="3.3"/><circle cx="426.5" cy="495.3" r="3.3"/><circle cx="430.2" cy="498.1" r="3.3"/><circle cx="433.9" cy="500.2" r="3.3"/><circle cx="441.7" cy="500.9" r="3.3"/><circle cx="445.2" cy="499.9" r="3.3"/><circle cx="422.7" cy="503.0" r="3.3"/><circle cx="437.5" cy="505.8" r="3.3"/><circle cx="434.3" cy="386.0" r="3.3"/><circle cx="452.0" cy="384.7" r="3.3"/><circle cx="455.6" cy="397.2" r="3.3"/></g><rect x="61.50" y="56.30" width="602.20" height="561.10" stroke="#000" stroke-width="1.35" fill="none"/><path d="M61.43 617.40V622.40M136.71 617.40V622.40M211.99 617.40V622.40M287.27 617.40V622.40M362.55 617.40V622.40M437.83 617.40V622.40M513.11 617.40V622.40M588.39 617.40V622.40M663.67 617.40V622.40M61.50 609.40H56.50M61.50 530.39H56.50M61.50 451.38H56.50M61.50 372.37H56.50M61.50 293.36H56.50M61.50 214.35H56.50M61.50 135.34H56.50M61.50 56.33H56.50" stroke="#000" stroke-width="1.35" fill="none"/><g font-family="Liberation Sans, sans-serif" fill="#000"><text transform="translate(61.43,645.00) scale(1.0,1)" font-size="24.7" text-anchor="middle">-8</text><text transform="translate(136.71,645.00) scale(1.0,1)" font-size="24.7" text-anchor="middle">-6</text><text transform="translate(211.99,645.00) scale(1.0,1)" font-size="24.7" text-anchor="middle">-4</text><text transform="translate(287.27,645.00) scale(1.0,1)" font-size="24.7" text-anchor="middle">-2</text><text transform="translate(362.55,645.00) scale(1.0,1)" font-size="24.7" text-anchor="middle">0</text><text transform="translate(437.83,645.00) scale(1.0,1)" font-size="24.7" text-anchor="middle">2</text><text transform="translate(513.11,645.00) scale(1.0,1)" font-size="24.7" text-anchor="middle">4</text><text transform="translate(588.39,645.00) scale(1.0,1)" font-size="24.7" text-anchor="middle">6</text><text transform="translate(663.67,645.00) scale(1.0,1)" font-size="24.7" text-anchor="middle">8</text><text transform="translate(52.20,618.00) scale(1.0,1)" font-size="24.7" text-anchor="end">0</text><text transform="translate(52.20,538.99) scale(1.0,1)" font-size="24.7" text-anchor="end">1</text><text transform="translate(52.20,459.98) scale(1.0,1)" font-size="24.7" text-anchor="end">2</text><text transform="translate(52.20,380.97) scale(1.0,1)" font-size="24.7" text-anchor="end">3</text><text transform="translate(52.20,301.96) scale(1.0,1)" font-size="24.7" text-anchor="end">4</text><text transform="translate(52.20,222.95) scale(1.0,1)" font-size="24.7" text-anchor="end">5</text><text transform="translate(52.20,143.94) scale(1.0,1)" font-size="24.7" text-anchor="end">6</text><text transform="translate(52.20,64.93) scale(1.0,1)" font-size="24.7" text-anchor="end">7</text></g><g font-family="Liberation Sans, sans-serif" fill="#000"><text transform="translate(361.80,673.00) scale(1.0,1)" font-size="19.3" text-anchor="middle">log<tspan font-size="13.5" dy="4.5">2</tspan><tspan dy="-4.5">(Fold Change)</tspan></text><text transform="translate(362.30,697.60) scale(1.0,1)" font-size="19.3" text-anchor="middle">MML_vs_BC</text><text transform="translate(24.8,336.3) rotate(-90) scale(1.02,1)" font-size="19.3" text-anchor="middle">-log<tspan font-size="13.5" dy="4.5">10</tspan><tspan dy="-4.5">(Pvalue)</tspan></text></g><g font-family="Liberation Sans, sans-serif" fill="#000"><circle cx="77.4" cy="26.6" r="4.9" fill="#D68D30" fill-opacity="0.7"/><text transform="translate(93.50,31.60) scale(1.0,1)" font-size="19.5" text-anchor="start">Down regulated(93)</text><circle cx="293.5" cy="26.6" r="4.9" fill="#6a6a6a" fill-opacity="0.7"/><text transform="translate(309.40,31.60) scale(1.0,1)" font-size="19.5" text-anchor="start">Not changed(869)</text><circle cx="494.2" cy="26.6" r="4.9" fill="#13B8F1" fill-opacity="0.7"/><text transform="translate(510.20,31.60) scale(1.0,1)" font-size="19.5" text-anchor="start">Up regulated(185)</text></g></svg></body></html>
